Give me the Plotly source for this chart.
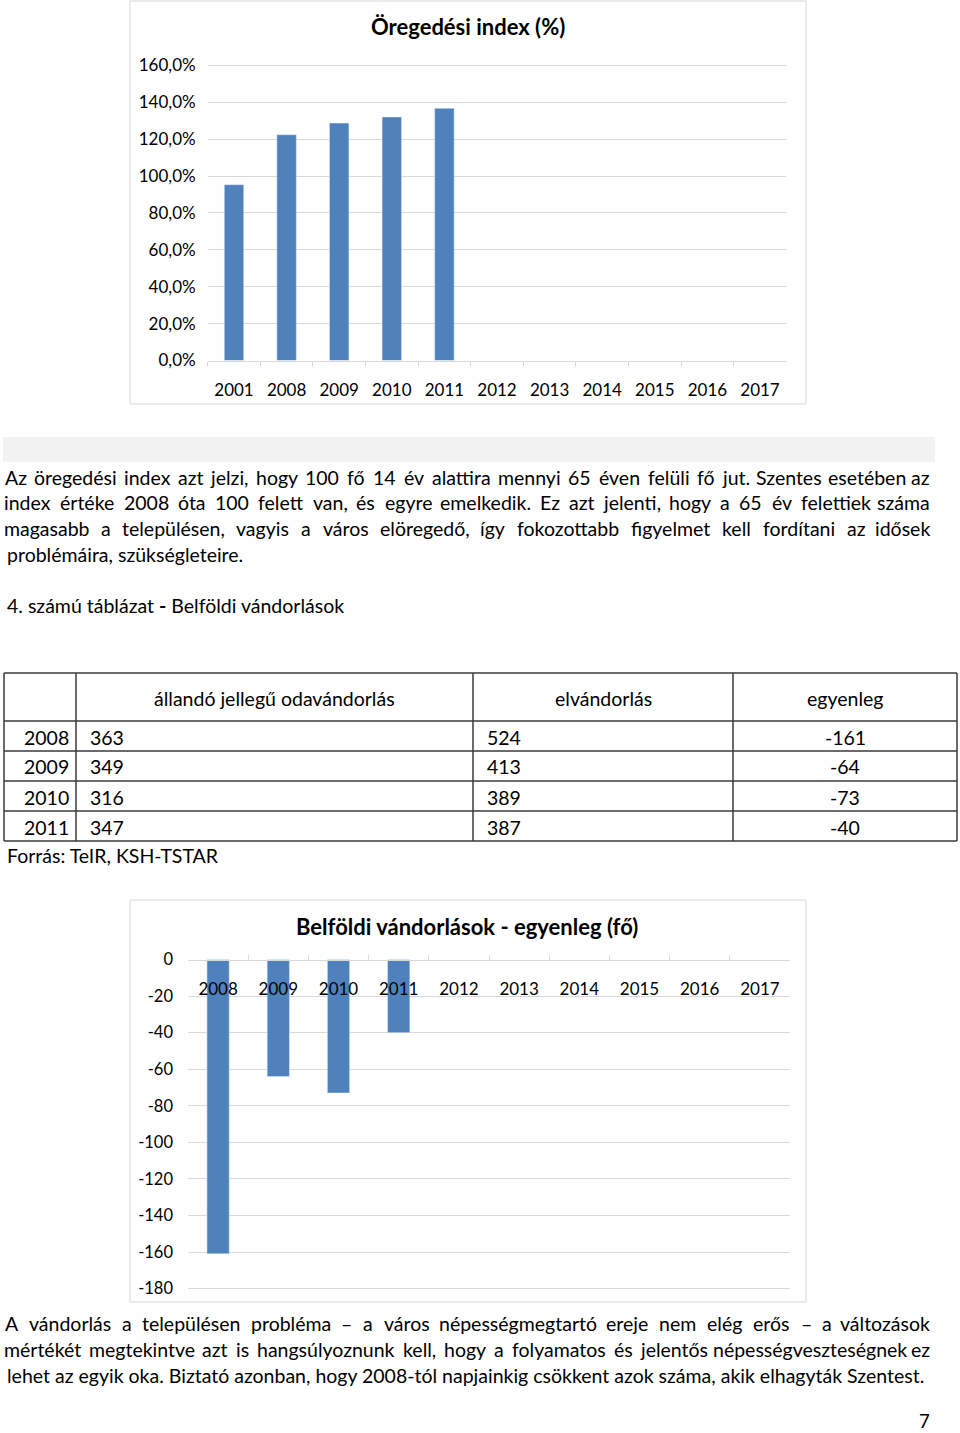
import unicodedata
import plotly.graph_objects as go

W, H = 960, 1433
FONT = "Lato"
BLUE = "#4f81bd"
GRID = "#d9d9d9"

# ---------------- data ----------------
index_years = ["2001", "2008", "2009", "2010", "2011", "2012", "2013", "2014", "2015", "2016", "2017"]
index_values = [95.3, 122.4, 128.7, 132.0, 136.7, None, None, None, None, None, None]
index_ticks = [0, 20, 40, 60, 80, 100, 120, 140, 160]
index_ticktext = ["0,0%", "20,0%", "40,0%", "60,0%", "80,0%", "100,0%", "120,0%", "140,0%", "160,0%"]

table_years = ["2008", "2009", "2010", "2011"]
odavandorlas = [363, 349, 316, 347]
elvandorlas = [524, 413, 389, 387]
egyenleg = [-161, -64, -73, -40]
table_header = ["", "állandó jellegű odavándorlás", "elvándorlás", "egyenleg"]

migr_years = ["2008", "2009", "2010", "2011", "2012", "2013", "2014", "2015", "2016", "2017"]
migr_values = egyenleg + [None] * 6
migr_ticks = [0, -20, -40, -60, -80, -100, -120, -140, -160, -180]
migr_ticktext = ["0", "-20", "-40", "-60", "-80", "-100", "-120", "-140", "-160", "-180"]

para1 = [
    "Az öregedési index azt jelzi, hogy 100 fő 14 év alattira mennyi 65 éven felüli fő jut. Szentes esetében az",
    "index értéke 2008 óta 100 felett van, és egyre emelkedik. Ez azt jelenti, hogy a 65 év felettiek száma",
    "magasabb a településen, vagyis a város elöregedő, így fokozottabb figyelmet kell fordítani az idősek",
    "problémáira, szükségleteire.",
]
caption = "4. számú táblázat <b>-</b> Belföldi vándorlások"
source = "Forrás: TeIR, KSH-TSTAR"
para2 = [
    "A vándorlás a településen probléma – a város népességmegtartó ereje nem elég erős – a változások",
    "mértékét megtekintve azt is hangsúlyoznunk kell, hogy a folyamatos és jelentős népességveszteségnek ez",
    "lehet az egyik oka. Biztató azonban, hogy 2008-tól napjainkig csökkent azok száma, akik elhagyták Szentest.",
]


def px(x):
    return x / W


def py(y):
    return 1 - y / H


# rough advance widths (em) for Lato, used only to spread justified words
CW = dict(a=.49, b=.55, c=.45, d=.55, e=.51, f=.32, g=.50, h=.55, i=.24, j=.23, k=.50, l=.24,
          m=.82, n=.55, o=.55, p=.55, q=.55, r=.36, s=.42, t=.34, u=.55, v=.50, w=.76, x=.49,
          y=.50, z=.45, A=.67, B=.63, C=.66, D=.73, E=.56, F=.54, G=.71, H=.74, I=.28, K=.64,
          L=.49, M=.89, N=.74, O=.78, P=.60, R=.63, S=.52, T=.58, V=.67, Z=.60)


def word_w(wd, size):
    t = 0.0
    for ch in wd:
        base = unicodedata.normalize("NFD", ch)[0]
        if base.isdigit():
            t += 0.58
        elif base in CW:
            t += CW[base]
        elif base in ".,":
            t += 0.20
        elif base == "-":
            t += 0.33
        elif base == "–":
            t += 0.50
        elif base in "()":
            t += 0.30
        else:
            t += 0.50
    return t * size


fig = go.Figure()

fig.add_trace(go.Bar(x=index_years, y=index_values, marker_color=BLUE,
                     xaxis="x", yaxis="y", showlegend=False))
fig.add_trace(go.Bar(x=migr_years, y=migr_values, marker_color=BLUE,
                     xaxis="x2", yaxis="y2", showlegend=False))

tickfont = dict(family=FONT, size=17, color="#000")

fig.update_layout(
    width=W, height=H, autosize=False,
    margin=dict(l=0, r=0, t=0, b=0, pad=0, autoexpand=False),
    paper_bgcolor="white", plot_bgcolor="white",
    bargap=0.63,
    showlegend=False,
    font=dict(family=FONT, color="#000"),
    xaxis=dict(domain=[px(207.7), px(786.3)], anchor="y", type="category",
               categoryorder="array", categoryarray=index_years, automargin=False,
               showgrid=False, showline=True, linecolor=GRID, linewidth=1,
               ticks="outside", tickson="boundaries", ticklen=5, tickcolor=GRID,
               tickfont=tickfont, ticklabelstandoff=14, fixedrange=True),
    yaxis=dict(domain=[py(360.5), py(63.5)], anchor="x", range=[0, 161], automargin=False,
               tickvals=index_ticks, ticktext=index_ticktext,
               showgrid=True, gridcolor=GRID, gridwidth=1, zeroline=False,
               showline=False, ticks="", tickfont=dict(family=FONT, size=17, color="#000"),
               ticklabelstandoff=11, fixedrange=True),
    xaxis2=dict(domain=[px(188), px(790)], anchor="free", position=py(959.5),
                side="bottom", type="category", automargin=False,
                categoryorder="array", categoryarray=migr_years,
                showgrid=False, showline=True, linecolor=GRID, linewidth=1,
                ticks="inside", tickson="boundaries", ticklen=5, tickcolor=GRID,
                tickfont=tickfont, ticklabelstandoff=14, fixedrange=True),
    yaxis2=dict(domain=[py(1290.4), py(959.5)], anchor="x2", range=[-181, 0], automargin=False,
                tickvals=migr_ticks, ticktext=migr_ticktext,
                showgrid=True, gridcolor=GRID, gridwidth=1, zeroline=False,
                showline=False, ticks="", tickfont=dict(family=FONT, size=16.5, color="#000"),
                ticklabelstandoff=14, fixedrange=True),
)

shapes = []
annotations = []

# chart frames
for (x0, y0, x1, y1) in [(130, 1, 806, 404), (130, 900, 806, 1302)]:
    shapes.append(dict(type="rect", xref="paper", yref="paper",
                       x0=px(x0), x1=px(x1), y0=py(y1), y1=py(y0),
                       line=dict(color=GRID, width=1), fillcolor="rgba(0,0,0,0)", layer="below"))

# titles
annotations.append(dict(text="<b>Öregedési index (%)</b>", x=px(468), y=py(27), xref="paper", yref="paper",
                        showarrow=False, xanchor="center", yanchor="middle",
                        font=dict(family=FONT, size=22, color="#000")))
annotations.append(dict(text="<b>Belföldi vándorlások - egyenleg (fő)</b>", x=px(467), y=py(926),
                        xref="paper", yref="paper", showarrow=False, xanchor="center", yanchor="middle",
                        font=dict(family=FONT, size=22, color="#000")))

# grey band
shapes.append(dict(type="rect", xref="paper", yref="paper", x0=px(3), x1=px(935),
                   y0=py(462), y1=py(437), line=dict(width=0), fillcolor="#f2f2f2", layer="below"))

TXT = 19.5
LEFT, RIGHT = 5, 932


def text_line(s, x, y, anchor="left", size=TXT):
    annotations.append(dict(text=s, x=px(x), y=py(y), xref="paper", yref="paper",
                            showarrow=False, xanchor=anchor, yanchor="middle",
                            font=dict(family=FONT, size=size, color="#000")))


def justified_line(s, y, size=TXT):
    words = s.split(" ")
    widths = [word_w(w, size) for w in words]
    total = RIGHT - LEFT
    gap = (total - sum(widths)) / (len(words) - 1)
    xcur = LEFT
    for i, (wd, ww) in enumerate(zip(words, widths)):
        if i == len(words) - 1:
            text_line(wd, RIGHT, y, anchor="right", size=size)
        else:
            text_line(wd, xcur + ww / 2, y, anchor="center", size=size)
        xcur += ww + gap


for i, s in enumerate(para1):
    yy = 477 + i * 25.7
    if i < len(para1) - 1:
        justified_line(s, yy)
    else:
        text_line(s, LEFT, yy)
text_line(caption, LEFT, 605)
text_line(source, LEFT, 855)
for i, s in enumerate(para2):
    yy = 1323 + i * 26
    if i < len(para2) - 1:
        justified_line(s, yy)
    else:
        text_line(s, LEFT, yy)
text_line("7", 932, 1421, anchor="right", size=18.5)

# table
TL = "#3a3a3a"
row_edges = [673, 721, 751, 781, 811, 841]
col_edges = [4, 76, 473, 733, 957]
for yv in row_edges:
    shapes.append(dict(type="line", xref="paper", yref="paper", x0=px(col_edges[0]), x1=px(col_edges[-1]),
                       y0=py(yv), y1=py(yv), line=dict(color=TL, width=1.5)))
for xv in col_edges:
    shapes.append(dict(type="line", xref="paper", yref="paper", x0=px(xv), x1=px(xv),
                       y0=py(row_edges[-1]), y1=py(row_edges[0]), line=dict(color=TL, width=1.5)))

for j in range(1, 4):
    cx = (col_edges[j] + col_edges[j + 1]) / 2
    text_line(table_header[j], cx, 698, anchor="center")

for i in range(len(table_years)):
    yc = (row_edges[i + 1] + row_edges[i + 2]) / 2 + 1
    text_line(table_years[i], 71, yc, anchor="right")
    text_line(str(odavandorlas[i]), 88, yc)
    text_line(str(elvandorlas[i]), 485, yc)
    text_line(str(egyenleg[i]), (col_edges[3] + col_edges[4]) / 2, yc, anchor="center")

fig.update_layout(shapes=shapes, annotations=annotations)

fig.write_html("out.html",
               post_script="document.body.style.margin='0';document.documentElement.style.margin='0';")
